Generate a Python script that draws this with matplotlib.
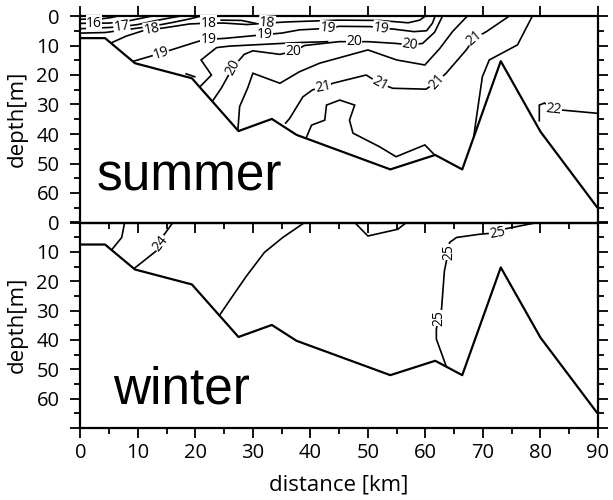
import matplotlib
matplotlib.use('agg')
import matplotlib.pyplot as plt
import numpy as np

# bottom topography (distance km, depth m), same in both seasons
bottom_km = [0, 4.3, 9.5, 19.4, 27.5, 33.3, 37.6, 53.9, 61.7, 66.4, 73.1, 80.0, 89.8]
bottom_depth = [7.5, 7.5, 16.0, 21.1, 39.0, 34.9, 40.3, 52.0, 47.1, 52.0, 15.3, 39.2, 64.7]

# summer isotherms, traced as (km, depth) polylines
summer_lines = [
    [(0, 1.1), (3.5, 1.0), (5.5, 0.5), (6.5, 0)],
    [(0, 2.5), (5, 2.4), (8, 1.8), (11, 0.6), (12.5, 0)],
    [(0, 4.3), (5, 3.9), (7.2, 3.6), (10, 2.9), (13, 1.6), (16, 0.5), (17.5, 0)],
    [(0, 5.8), (4.3, 5.6), (7, 4.9), (10, 4.1), (13, 3.3), (16, 2.2), (19, 1.0), (21, 0)],
    [(5.5, 9.0), (8, 6.8), (10.9, 5.0), (12.4, 4.6), (15, 3.9), (19, 2.7), (22.3, 2.4),
     (25, 2.4), (29, 2.9), (32.5, 2.4), (36, 2.0), (45, 1.4), (52, 1.5), (57, 2.3),
     (59, 1.4), (60, 0)],
    [(24.5, 1.4), (28, 1.5), (30.5, 2.5)],
    [(9.3, 15.3), (14, 12.6), (20.5, 8.6), (22.3, 7.9), (25, 7.6), (30.5, 6.6), (32, 6.3),
     (35, 5.8), (38.1, 4.7), (43, 4.2), (45, 3.5), (50.5, 3.6), (52.3, 4.2), (54.3, 4.4),
     (58, 5.3), (60.2, 5.0), (61.2, 2.5), (61.7, 0)],
    [(20.8, 24.0), (22.8, 20.0), (21.0, 14.9), (23.7, 10.7), (26, 10.2), (33, 9.5),
     (38, 9.0), (43, 8.7)],
    [(23.0, 28.8), (24.5, 24.5), (26.5, 17.5), (28.5, 13.0), (30, 11.8), (34.7, 13.0),
     (37, 12.0), (39, 10.0), (45, 8.7), (47.6, 8.7), (50, 8.7), (54.9, 9.3), (57.3, 9.8),
     (59.5, 9.3), (61.6, 5.5), (62.6, 1.5), (63.0, 0)],
    [(27.4, 38.6), (27.7, 30.7), (29.1, 24.4), (30, 19.4), (34.7, 22.8), (38.1, 18.9),
     (41.6, 16.0), (50, 11.5), (55, 14.9), (59.9, 16.6), (62.5, 11.0), (64.7, 5.3),
     (67.3, 0)],
    [(35.7, 36.3), (36.4, 34.7), (38.7, 27.4), (40.4, 25.0), (42.2, 24.2), (43.9, 22.8),
     (49.7, 20.0), (50.6, 21.1), (52.1, 22.8), (54.3, 24.5), (60.1, 24.8), (62.0, 22.3),
     (63.6, 19.4), (67.1, 11.5), (68.5, 7.6), (70.6, 5.3), (74.6, 0)],
    [(39.3, 41.2), (40.2, 37.0), (42.5, 35.3), (42.8, 30.2), (45.1, 28.5), (47.7, 30.2),
     (46.8, 35.3), (47.4, 39.7), (52.0, 44.3), (54.9, 47.7), (59.9, 43.7), (61.6, 47.1)],
    [(68.4, 41.0), (68.8, 35.3), (69.9, 20.6), (71.1, 14.9), (76.0, 9.8), (78.6, 0)],
    [(79.8, 35.5), (79.8, 30.2), (80.7, 29.5), (82.3, 31.6), (83.8, 31.9), (90, 33.0)],
    [(18.4, 19.6), (19.9, 20.6)],
]
summer_labels = [
    ('16', 2.4, 2.5, 0), ('17', 7.2, 3.6, 8), ('18', 12.4, 4.6, 10),
    ('19', 14.0, 12.6, 18), ('18', 22.3, 2.4, 0), ('18', 32.5, 2.4, -4),
    ('19', 22.3, 7.9, 0), ('19', 32.0, 6.3, 0), ('19', 43.0, 4.2, -5),
    ('19', 52.3, 4.2, -8), ('20', 26.5, 17.5, 62), ('20', 37.0, 12.0, 0),
    ('20', 47.6, 8.7, 0), ('20', 57.3, 9.8, -8), ('21', 42.2, 24.2, 12),
    ('21', 52.1, 22.8, -28), ('21', 62.0, 22.3, 48), ('21', 68.5, 7.6, 40),
    ('22', 82.3, 31.6, -6),
]

# winter isotherms
winter_lines = [
    [(7.7, 0), (7.2, 5.1), (5.5, 9.2)],
    [(16.1, 0), (14.4, 4.6), (13.2, 9.7), (9.4, 15.6)],
    [(39.0, 0), (35.2, 5.1), (32.0, 10.2), (28.9, 18.2), (26.5, 25.0), (24.2, 31.6)],
    [(47.7, 0), (50.0, 4.6), (55.2, 2.3), (56.7, 0)],
    [(79.5, 0), (73.5, 2.3), (72.5, 3.5), (69.4, 4.0), (65.4, 5.1), (64.2, 6.8),
     (64.0, 9.7), (63.3, 16.5), (62.8, 29.5), (62.3, 32.5), (61.9, 36.3), (61.9, 39.7),
     (63.6, 48.9)],
]
winter_labels = [
    ('24', 14.0, 7.2, 52), ('25', 72.5, 3.6, 10), ('25', 64.0, 10.0, 90),
    ('25', 62.4, 32.5, 90),
]

fig = plt.figure(figsize=(6.13, 5.0), dpi=100)
ax1 = fig.add_axes([0.131, 0.555, 0.8445, 0.413])
ax2 = fig.add_axes([0.131, 0.144, 0.8445, 0.411])
ax2.patch.set_visible(False)

tick_font = 'Open Sans'

for ax, lines, labels, name, npos in [
        (ax1, summer_lines, summer_labels, 'summer', (2.9, 59.0)),
        (ax2, winter_lines, winter_labels, 'winter', (5.7, 61.8))]:
    for ln in lines:
        xs, ys = zip(*ln)
        ax.plot(xs, ys, color='black', lw=1.2, solid_joinstyle='miter')
    for txt, x, y, rot in labels:
        ax.text(x, y, txt, fontsize=10, family=tick_font,
                rotation=rot, ha='center', va='center', rotation_mode='anchor',
                bbox=dict(facecolor='white', edgecolor='none', pad=0.3))
    ax.plot(bottom_km, bottom_depth, color='black', lw=1.6)
    ax.text(npos[0], npos[1], name, fontsize=37, family='Liberation Sans',
            ha='left', va='baseline')
    ax.set_xlim(0, 90)
    ax.set_ylim(70, 0)
    ax.set_yticks(range(0, 71, 10))
    ax.set_yticklabels([str(v) for v in range(0, 61, 10)] + [''])
    ax.set_yticks(range(5, 70, 10), minor=True)
    ax.set_xticks(range(0, 91, 10))
    ax.set_xticks(range(5, 90, 10), minor=True)
    ax.tick_params(which='both', direction='out', width=1.3, right=True,
                   labelsize=14.5)
    ax.tick_params(axis='y', pad=8)
    ax.tick_params(axis='x', pad=4)
    ax.tick_params(which='major', length=7)
    ax.tick_params(which='minor', length=4)
    for s in ax.spines.values():
        s.set_linewidth(1.6)
    ax.set_ylabel('depth[m]', fontsize=16, family=tick_font, va='center', ha='center')
    ax.yaxis.set_label_coords(-0.122, 0.5)
    for t in ax.get_xticklabels() + ax.get_yticklabels():
        t.set_family(tick_font)

ax1.tick_params(axis='x', top=True, labelbottom=False)
ax2.set_xlabel('distance [km]', fontsize=16, family=tick_font, va='center')
ax2.xaxis.set_label_coords(0.5, -0.277)

fig.savefig('out.png', dpi=100)
